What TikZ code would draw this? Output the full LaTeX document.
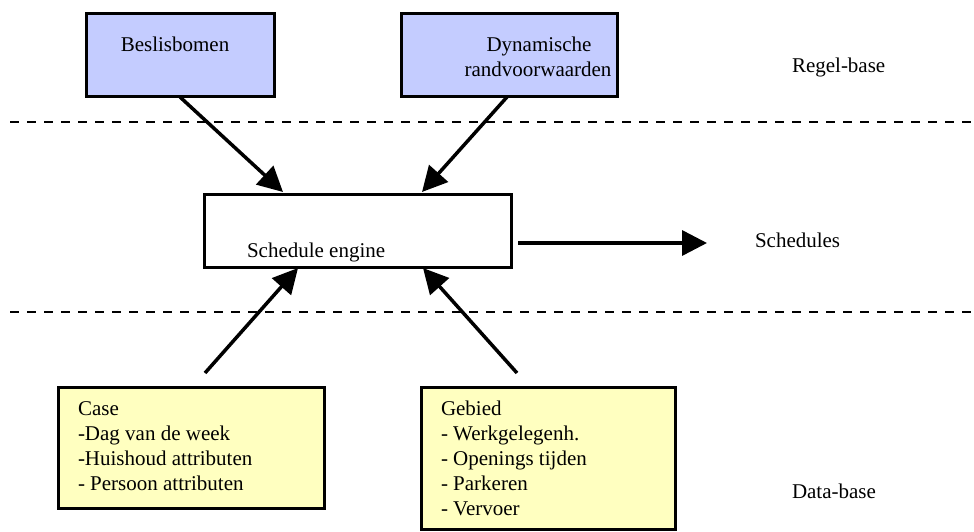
\documentclass[tikz,border=0pt]{standalone}
\usepackage{fontspec}
\setmainfont{Liberation Serif}
\newfontfamily\diagfont{Liberation Serif}
\usetikzlibrary{arrows.meta}
\definecolor{rulefill}{RGB}{196,204,255}
\definecolor{datafill}{RGB}{255,255,192}
\begin{document}
\begin{tikzpicture}[x=1pt,y=-1pt,
  box/.style={draw=black, line width=3pt, inner sep=0pt, outer sep=0pt},
  lbl/.style={font=\diagfont\fontsize{21}{25}\selectfont, inner sep=0pt, outer sep=0pt},
  flow/.style={line width=3.5pt, -{Triangle[length=25pt,width=25pt]}},
  layer/.style={line width=2.5pt, dash pattern=on 9pt off 8pt}]
\useasboundingbox (0,0) rectangle (974,532);

% layer separators
\coordinate (s1a) at (10,122);  \coordinate (s1b) at (974,122);
\coordinate (s2a) at (10,312);  \coordinate (s2b) at (974,312);
\draw[layer] (s1a) -- (s1b);
\draw[layer] (s2a) -- (s2b);

% rule base
\node[box, fill=rulefill, minimum width=188pt, minimum height=83pt] (bes) at (180,55.5) {};
\node[lbl, anchor=base] (besT) at (175,52) {Beslisbomen};
\node[box, fill=rulefill, minimum width=216pt, minimum height=83pt] (dyn) at (509,55.5) {};
\node[lbl, anchor=base] (dynT1) at (539,52) {Dynamische};
\node[lbl, anchor=base] (dynT2) at (538,77) {randvoorwaarden};
\node[lbl, anchor=base west] (regel) at (792,73) {Regel-base};

% engine
\node[box, fill=white, minimum width=307pt, minimum height=73pt] (eng) at (357.5,230.5) {};
\node[lbl, anchor=base west] (engT) at (247,257) {Schedule engine};
\node[lbl, anchor=base west] (sched) at (755,247) {Schedules};

% data base
\node[box, fill=datafill, minimum width=266pt, minimum height=121pt] (case) at (191,447.5) {};
\foreach \t [count=\i] in {Case,-Dag van de week,-Huishoud attributen,- Persoon attributen}
  \node[lbl, anchor=base west] (caseT\i) at (78,{390+25*\i}) {\t};
\node[box, fill=datafill, minimum width=254pt, minimum height=142pt] (geb) at (548,458) {};
\foreach \t [count=\i] in {Gebied,- Werkgelegenh.,- Openings tijden,- Parkeren,- Vervoer}
  \node[lbl, anchor=base west] (gebT\i) at (441,{390+25*\i}) {\t};
\node[lbl, anchor=base west] (data) at (792,498) {Data-base};

% flows into and out of the engine
\draw[flow] (bes.south) -- ([xshift=-74.5pt,yshift=2pt]eng.north);
\draw[flow] ([xshift=-2pt]dyn.south) -- ([xshift=64.5pt,yshift=2pt]eng.north);
\draw[flow] ([xshift=14pt,yshift=14pt]case.north) -- ([xshift=-59.5pt,yshift=-1pt]eng.south);
\draw[flow] ([xshift=-31pt,yshift=14pt]geb.north) -- ([xshift=65.5pt,yshift=-1pt]eng.south);
\draw[flow] ([xshift=7pt,yshift=-12.5pt]eng.east) -- ([xshift=-48pt,yshift=4pt]sched.base west);
\end{tikzpicture}
\end{document}
